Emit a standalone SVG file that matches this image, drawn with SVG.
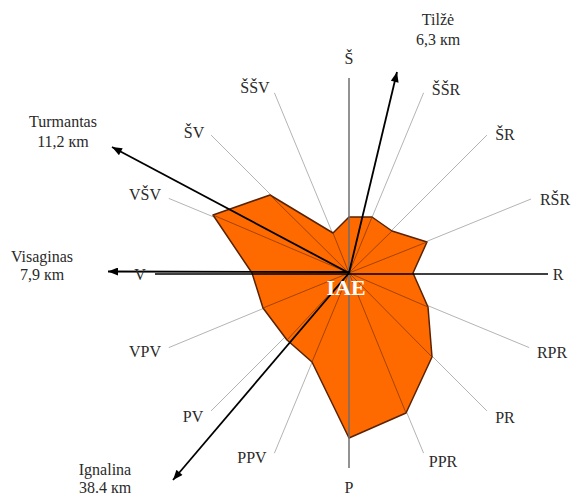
<svg xmlns="http://www.w3.org/2000/svg" width="576" height="497" viewBox="0 0 576 497">
<style>
text{font-family:"Liberation Serif","Times New Roman",serif;font-size:16px;fill:#2a2a2a;text-anchor:middle}
.ax{stroke:#b4b4b4;stroke-width:1;fill:none}
.sp{stroke:#8a3a08;stroke-width:0.8;fill:none}
.arr{stroke:#000;stroke-width:1.8;fill:none;marker-end:url(#ah)}
.iae{font-weight:bold;font-size:22px;fill:#fff}
</style>
<defs>
<marker id="ah" viewBox="0 0 10 8" refX="10" refY="4" markerWidth="11" markerHeight="8" markerUnits="userSpaceOnUse" orient="auto">
<path d="M0,0 L10,4 L0,8 Z" fill="#000"/>
</marker>
</defs>
<rect width="576" height="497" fill="#fff"/>
<g id="axes">
<line class="ax" x1="349" y1="273" x2="423.6" y2="92.8"/>
<line class="ax" x1="349" y1="273" x2="486.9" y2="135.1"/>
<line class="ax" x1="349" y1="273" x2="531" y2="199"/>
<line class="ax" x1="349" y1="273" x2="529.2" y2="347.6"/>
<line class="ax" x1="349" y1="273" x2="486.9" y2="410.9"/>
<line class="ax" x1="349" y1="273" x2="423.6" y2="453.2"/>
<line class="ax" x1="349" y1="273" x2="274.4" y2="453.2"/>
<line class="ax" x1="349" y1="273" x2="211.1" y2="410.9"/>
<line class="ax" x1="349" y1="273" x2="168.8" y2="347.6"/>
<line class="ax" x1="349" y1="273" x2="168.8" y2="198.4"/>
<line class="ax" x1="349" y1="273" x2="211.1" y2="135.1"/>
<line class="ax" x1="349" y1="273" x2="274.4" y2="92.8"/>
</g>
<g id="rose">
<polygon points="349,217 372,217 392,231 427,242 413,273 428,307 432,357 406,413 349,438 312,362 287,340 263,308 252,273 213,215 270,195 333,233" fill="#ff6a00" stroke="#5a2200" stroke-width="1.5" stroke-linejoin="round"/>
<g class="sp">
<line x1="349" y1="273" x2="372" y2="217"/>
<line x1="349" y1="273" x2="392" y2="231"/>
<line x1="349" y1="273" x2="427" y2="242"/>
<line x1="349" y1="273" x2="428" y2="307"/>
<line x1="349" y1="273" x2="432" y2="357"/>
<line x1="349" y1="273" x2="406" y2="413"/>
<line x1="349" y1="273" x2="312" y2="362"/>
<line x1="349" y1="273" x2="287" y2="340"/>
<line x1="349" y1="273" x2="263" y2="308"/>
<line x1="349" y1="273" x2="213" y2="215"/>
<line x1="349" y1="273" x2="270" y2="195"/>
<line x1="349" y1="273" x2="333" y2="233"/>
</g>
</g>
<g id="connectors">
<line x1="349" y1="78" x2="349" y2="468" stroke="#6e6e6e" stroke-width="1.5"/>
<line x1="155" y1="274" x2="548" y2="274" stroke="#000" stroke-width="1.3"/>
<line class="arr" x1="349" y1="273" x2="397" y2="72"/>
<line class="arr" x1="349" y1="273" x2="112" y2="147"/>
<line class="arr" x1="349" y1="272" x2="108" y2="271.5"/>
<line class="arr" x1="349" y1="273" x2="173" y2="480"/>
</g>
<g id="center"><text class="iae" x="346" y="295">IAE</text></g>
<g id="labels">
<text x="349" y="64">Š</text>
<text x="446" y="95">ŠŠR</text>
<text x="505" y="140">ŠR</text>
<text x="555" y="205">RŠR</text>
<text x="558" y="280">R</text>
<text x="552" y="358">RPR</text>
<text x="505" y="423">PR</text>
<text x="443" y="467">PPR</text>
<text x="349" y="493">P</text>
<text x="252" y="463">PPV</text>
<text x="193" y="422">PV</text>
<text x="145" y="357">VPV</text>
<text x="140" y="280">V</text>
<text x="145" y="200">VŠV</text>
<text x="194" y="138">ŠV</text>
<text x="255" y="93">ŠŠV</text>
</g>
<g id="towns">
<text x="438" y="25">Tilžė</text>
<text x="438" y="45">6,3 кm</text>
<text x="63" y="127">Turmantas</text>
<text x="63" y="147">11,2 кm</text>
<text x="42" y="262">Visaginas</text>
<text x="42" y="280">7,9 кm</text>
<text x="105" y="475">Ignalina</text>
<text x="105" y="493">38.4 кm</text>
</g>
</svg>
